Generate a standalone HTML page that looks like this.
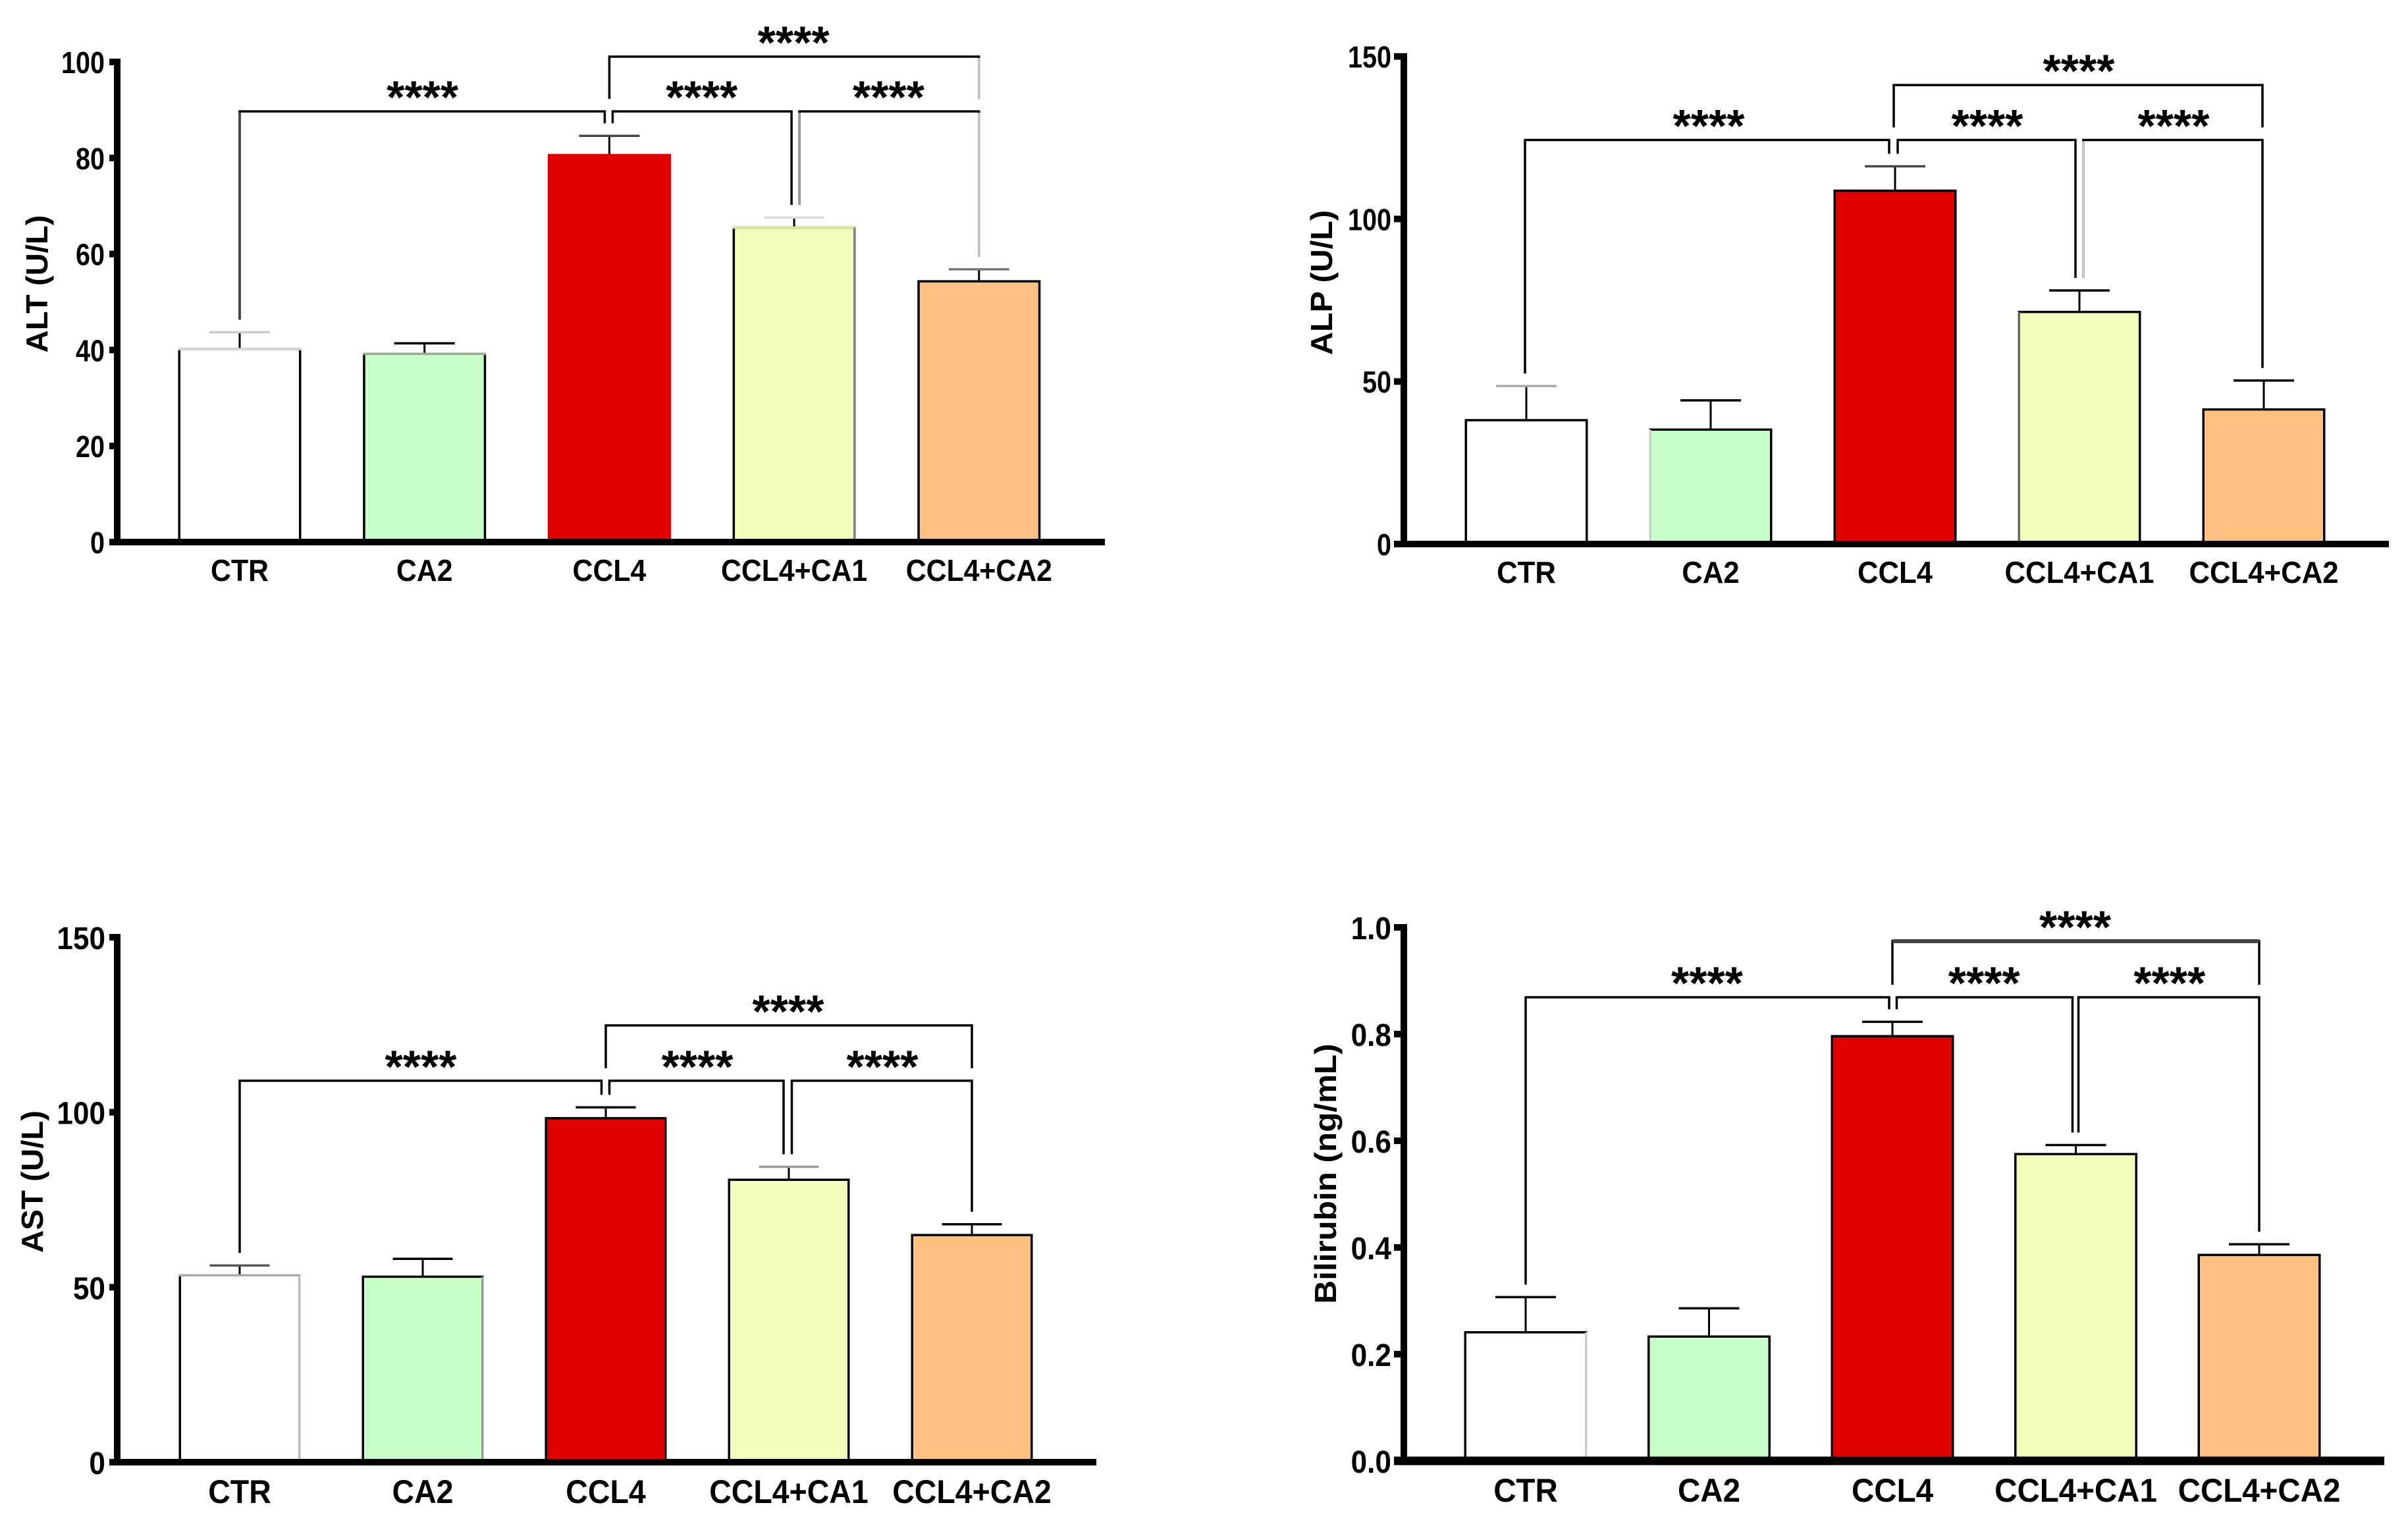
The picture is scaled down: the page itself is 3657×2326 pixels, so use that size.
<!DOCTYPE html>
<html lang="en">
<head>
<meta charset="utf-8">
<title>Liver function bar charts</title>
<style>
html,body{margin:0;padding:0;background:#fff;}
svg{display:block;}
text{font-family:"Liberation Sans",Arial,sans-serif;font-weight:700;fill:#000;}
</style>
</head>
<body>
<svg id="figure" xmlns="http://www.w3.org/2000/svg" width="3657" height="2326" viewBox="0 0 3657 2326"></svg>
<script>
const categories = ['CTR', 'CA2', 'CCL4', 'CCL4+CA1', 'CCL4+CA2'];
const barColors = ['#ffffff', '#c8ffc8', '#e00000', '#f3ffbb', '#ffc080'];
const significanceLabel = '****';

const altValues = [40.2, 39.2, 80.6, 65.5, 54.3];
const altErrorTops = [43.7, 41.4, 84.6, 67.6, 56.8];
const altTicks = [0, 20, 40, 60, 80, 100];
const altTickLabels = ['0', '20', '40', '60', '80', '100'];
const altBracketLevels = [89.7, 101.1];

const alpValues = [38.1, 35.2, 108.7, 71.4, 41.4];
const alpErrorTops = [48.6, 44.2, 116.2, 78, 50.3];
const alpTicks = [0, 50, 100, 150];
const alpTickLabels = ['0', '50', '100', '150'];
const alpBracketLevels = [124.3, 141.2];

const astValues = [53.4, 53, 98.3, 80.7, 64.9];
const astErrorTops = [56.2, 58.1, 101.4, 84.4, 68];
const astTicks = [0, 50, 100, 150];
const astTickLabels = ['0', '50', '100', '150'];
const astBracketLevels = [109, 124.8];

const bilValues = [0.241, 0.233, 0.796, 0.575, 0.386];
const bilErrorTops = [0.307, 0.286, 0.823, 0.592, 0.406];
const bilTicks = [0, 0.2, 0.4, 0.6, 0.8, 1];
const bilTickLabels = ['0.0', '0.2', '0.4', '0.6', '0.8', '1.0'];
const bilBracketLevels = [0.869, 0.974];

const SVG_NS = 'http://www.w3.org/2000/svg';
const figure = document.getElementById('figure');

function make(tag, parent) {
  const el = document.createElementNS(SVG_NS, tag);
  parent.appendChild(el);
  return el;
}

function setLine(el, x1, y1, x2, y2, width, color) {
  el.setAttribute('x1', x1);
  el.setAttribute('y1', y1);
  el.setAttribute('x2', x2);
  el.setAttribute('y2', y2);
  el.setAttribute('stroke', color || '#000');
  el.setAttribute('stroke-width', width);
}

function drawPanel(p) {
  const panel = make('g', figure);
  
  

  const yScale = v => p.y0 - (v - p.domain[0]) / (p.domain[1] - p.domain[0]) * (p.y0 - p.yTop);
  const xScale = i => p.x0 + i * p.pitch;
  const tone = p.tone || {};
  const capTone = tone.cap || {};
  const topTone = tone.top || {};
  const rightTone = tone.right || {};
  const leftTone = tone.left || {};
  const legTone = tone.leg || {};

  // bars and error bars
  p.values.forEach((v, i) => {
    const cx = xScale(i);
    const slug = categories[i].toLowerCase().replace('+', '-');
    const sw = 3.5;

    const err = make('line', panel);
    setLine(err, cx, yScale(p.errorTops[i]), cx, yScale(v), 3);
    
    

    const cap = make('line', panel);
    setLine(cap, cx - p.capW / 2, yScale(p.errorTops[i]), cx + p.capW / 2, yScale(p.errorTops[i]), 3.5, capTone[i]);
    
    

    const left = cx - p.barW / 2 + sw / 2;
    const right = cx + p.barW / 2 - sw / 2;

    const bar = make('rect', panel);
    bar.setAttribute('x', left);
    bar.setAttribute('y', yScale(v));
    bar.setAttribute('width', right - left);
    bar.setAttribute('height', p.y0 - yScale(v));
    bar.setAttribute('fill', barColors[i]);
    bar.setAttribute('stroke', p.noRedBorder && i === 2 ? barColors[i] : '#000');
    bar.setAttribute('stroke-width', sw);
    
    

    if (topTone[i]) {
      const edge = make('line', panel);
      setLine(edge, left - sw / 2, yScale(v), right + sw / 2, yScale(v), sw, topTone[i]);
      
      
    }
    if (rightTone[i]) {
      const edge = make('line', panel);
      setLine(edge, right, yScale(v), right, p.y0, sw, rightTone[i]);
      
      
    }
    if (leftTone[i]) {
      const edge = make('line', panel);
      setLine(edge, left, yScale(v), left, p.y0, sw, leftTone[i]);
      
      
    }

    const label = make('text', panel);
    label.textContent = categories[i];
    label.setAttribute('text-anchor', 'middle');
    label.setAttribute('font-size', p.catSize);
    label.setAttribute('transform', 'translate(' + cx + ',' + (p.y0 + p.catDy) + ') scale(' + p.catScale + ',1)');
    
    
  });

  // axes
  const yAxis = make('rect', panel);
  yAxis.setAttribute('x', p.axisX);
  yAxis.setAttribute('y', yScale(p.domain[1]) - p.tickH / 2);
  yAxis.setAttribute('width', 10);
  yAxis.setAttribute('height', p.y0 - yScale(p.domain[1]) + p.tickH / 2);
  yAxis.setAttribute('fill', '#000');
  
  

  const xAxis = make('rect', panel);
  xAxis.setAttribute('x', p.tickLeft);
  xAxis.setAttribute('y', p.y0 - p.xAxisH / 2);
  xAxis.setAttribute('width', p.axisEnd - p.tickLeft);
  xAxis.setAttribute('height', p.xAxisH);
  xAxis.setAttribute('fill', '#000');
  
  

  p.ticks.forEach((t, i) => {
    const tick = make('rect', panel);
    tick.setAttribute('x', p.tickLeft);
    tick.setAttribute('y', yScale(t) - p.tickH / 2);
    tick.setAttribute('width', p.axisX - p.tickLeft);
    tick.setAttribute('height', p.tickH);
    tick.setAttribute('fill', '#000');
    
    

    const label = make('text', panel);
    label.textContent = p.tickLabels[i];
    label.setAttribute('text-anchor', 'end');
    label.setAttribute('font-size', p.tickSize);
    label.setAttribute('transform', 'translate(' + p.tickRight + ',' + (yScale(t) + p.tickDy) + ') scale(' + p.tickScale + ',1)');
    
    
  });

  // y title
  const title = make('text', panel);
  title.textContent = p.title;
  title.setAttribute('text-anchor', 'middle');
  title.setAttribute('font-size', p.titleSize);
  title.setAttribute('textLength', p.titleLen);
  title.setAttribute('lengthAdjust', 'spacingAndGlyphs');
  title.setAttribute('transform', 'translate(' + p.titleX + ',' + p.titleY + ') rotate(-90)');
  
  

  // significance brackets
  const dx = p.bracketDx || 0;
  const lowY = yScale(p.levels[0]);
  const topY = yScale(p.levels[1]);
  const legEnd = i => yScale(p.errorTops[i]) - 19;
  const topLeg = lowY - 19;
  const spans = [
    { name: 'ctr-ccl4', a: xScale(0) + dx, b: xScale(2) + dx + p.off2[0], y: lowY, ya: legEnd(0), yb: legEnd(2), mid: (xScale(0) + xScale(2)) / 2 - 3 },
    { name: 'ccl4-ca1', a: xScale(2) + dx + p.off2[1], b: xScale(3) + dx + p.off3[0], y: lowY, ya: legEnd(2), yb: legEnd(3), mid: (xScale(2) + xScale(3)) / 2 },
    { name: 'ca1-ca2', a: xScale(3) + dx + p.off3[1], b: xScale(4) + dx, y: lowY, ya: legEnd(3), yb: legEnd(4), mid: (xScale(3) + xScale(4)) / 2 + 3 },
    { name: 'ccl4-ca2', a: xScale(2) + dx, b: xScale(4) + dx, y: topY, ya: topLeg, yb: topLeg, mid: (xScale(2) + xScale(4)) / 2 - 1 }
  ];
  spans.forEach(s => {
    const topBracket = s.name === 'ccl4-ca2' && tone.topBracket;
    const path = make('path', panel);
    path.setAttribute('d', 'M' + s.a + ' ' + s.ya + 'L' + s.a + ' ' + s.y + 'L' + s.b + ' ' + s.y + 'L' + s.b + ' ' + s.yb);
    path.setAttribute('fill', 'none');
    path.setAttribute('stroke', '#000');
    path.setAttribute('stroke-width', 3.5);
    
    

    if (topBracket) {
      const heavy = make('line', panel);
      setLine(heavy, s.a, s.y, s.b, s.y, 6, tone.topBracket);
      
      
    }
    if (legTone[s.name + ':a']) {
      const leg = make('line', panel);
      setLine(leg, s.a, s.y + 2, s.a, s.ya, 3.5, legTone[s.name + ':a']);
      
      
    }
    if (legTone[s.name + ':b']) {
      const leg = make('line', panel);
      setLine(leg, s.b, s.y + 2, s.b, s.yb, 3.5, legTone[s.name + ':b']);
      
      
    }

    const stars = make('text', panel);
    stars.textContent = significanceLabel;
    stars.setAttribute('text-anchor', 'middle');
    stars.setAttribute('font-size', 70);
    stars.setAttribute('x', s.mid);
    stars.setAttribute('y', s.y + 2.5);
    
    
  });
}

drawPanel({
  id: 'alt', title: 'ALT (U/L)', values: altValues, errorTops: altErrorTops,
  ticks: altTicks, tickLabels: altTickLabels, levels: altBracketLevels,
  domain: [0, 100], y0: 823, yTop: 94, x0: 364, pitch: 280.7, barW: 187, capW: 92,
  axisX: 173, tickLeft: 166, tickRight: 159, axisEnd: 1678, xAxisH: 10, tickH: 10,
  tickSize: 46, tickScale: 0.86, tickDy: 17, catSize: 46, catScale: 0.93, catDy: 59,
  titleSize: 46, titleLen: 209, titleX: 72, titleY: 431,
  off2: [-7, 5], off3: [-4, 8], noRedBorder: true,
  tone: {
    cap: { 0: '#ccc', 2: '#444', 3: '#ddd', 4: '#777' },
    top: { 0: '#ddd', 1: '#8fb08f', 3: '#dbe8a0' },
    right: { 3: '#888' },
    leg: { 'ctr-ccl4:a': '#444', 'ca1-ca2:a': '#999', 'ca1-ca2:b': '#c4c4c4', 'ccl4-ca2:b': '#c4c4c4' }
  }
});

drawPanel({
  id: 'alp', title: 'ALP (U/L)', values: alpValues, errorTops: alpErrorTops,
  ticks: alpTicks, tickLabels: alpTickLabels, levels: alpBracketLevels,
  domain: [0, 150], y0: 826, yTop: 85.7, x0: 2318, pitch: 280, barW: 187, capW: 92,
  axisX: 2127, tickLeft: 2117, tickRight: 2113, axisEnd: 3628, xAxisH: 10, tickH: 10,
  tickSize: 46, tickScale: 0.86, tickDy: 17, catSize: 46, catScale: 0.95, catDy: 59,
  titleSize: 46, titleLen: 220, titleX: 2023, titleY: 429,
  off2: [-7, 6], off3: [-4, 8], bracketDx: -2,
  tone: {
    cap: { 0: '#aaa', 2: '#444' },
    left: { 1: '#ccc', 3: '#666' },
    leg: { 'ca1-ca2:a': '#ccc' }
  }
});

drawPanel({
  id: 'ast', title: 'AST (U/L)', values: astValues, errorTops: astErrorTops,
  ticks: astTicks, tickLabels: astTickLabels, levels: astBracketLevels,
  domain: [0, 150], y0: 2220, yTop: 1423, x0: 364, pitch: 278, barW: 185, capW: 91,
  axisX: 173, tickLeft: 166, tickRight: 160, axisEnd: 1665, xAxisH: 10, tickH: 10,
  tickSize: 48, tickScale: 0.92, tickDy: 18, catSize: 50, catScale: 0.93, catDy: 62,
  titleSize: 46, titleLen: 216, titleX: 65, titleY: 1794,
  off2: [-6.5, 5.5], off3: [-8, 4.5],
  tone: {
    cap: { 0: '#555', 3: '#999' },
    top: { 0: '#aaa' },
    right: { 0: '#bbb', 1: '#999' }
  }
});

drawPanel({
  id: 'bilirubin', title: 'Bilirubin (ng/mL)', values: bilValues, errorTops: bilErrorTops,
  ticks: bilTicks, tickLabels: bilTickLabels, levels: bilBracketLevels,
  domain: [0, 1], y0: 2218, yTop: 1408, x0: 2317, pitch: 278.5, barW: 187, capW: 92,
  axisX: 2127, tickLeft: 2117, tickRight: 2113, axisEnd: 3621, xAxisH: 13, tickH: 10,
  tickSize: 48, tickScale: 0.92, tickDy: 18, catSize: 50, catScale: 0.95, catDy: 62,
  titleSize: 46, titleLen: 395, titleX: 2029, titleY: 1782,
  off2: [-5, 6.5], off3: [-5, 4],
  tone: {
    right: { 0: '#ccc' },
    topBracket: '#444'
  }
});
</script>
</body>
</html>
